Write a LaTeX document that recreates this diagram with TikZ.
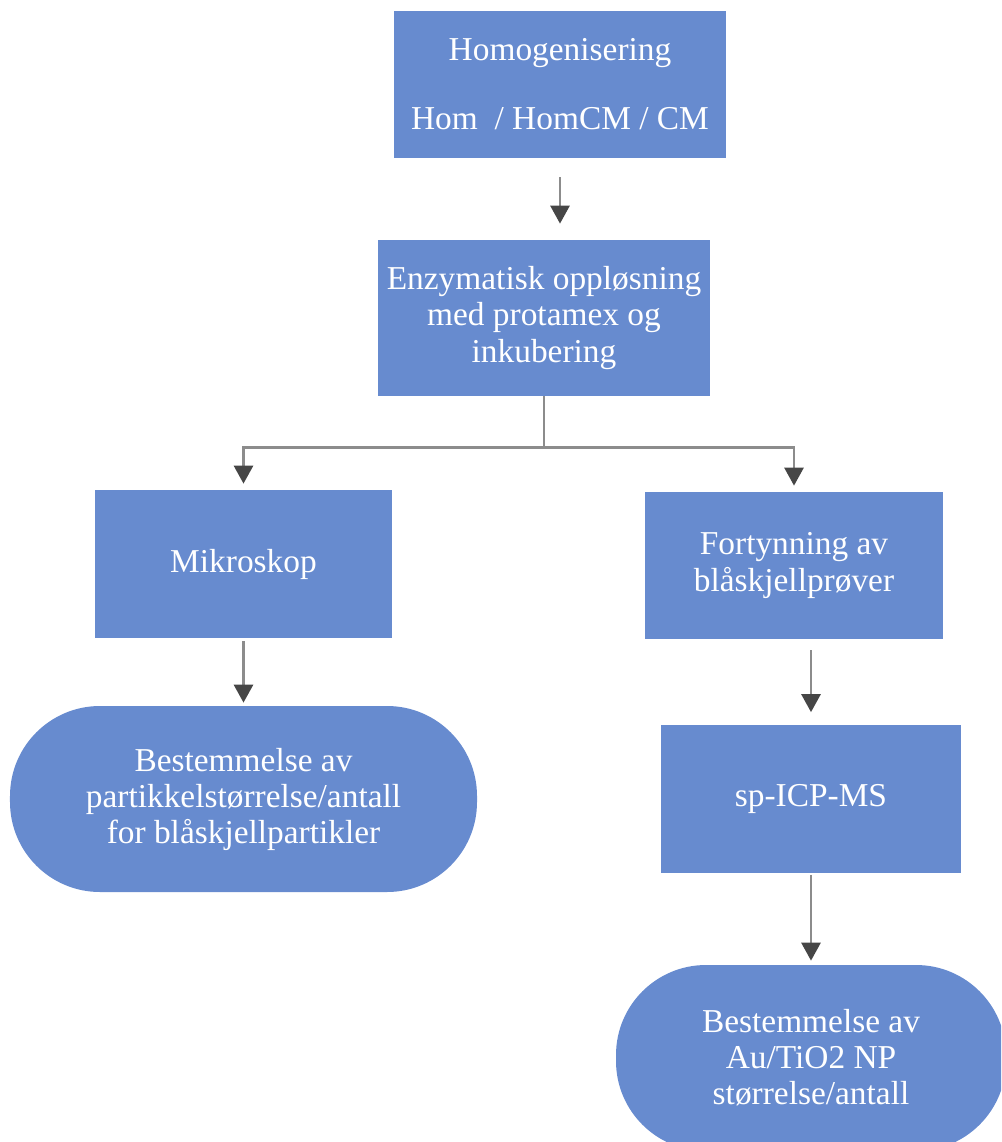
\documentclass[tikz,border=0pt]{standalone}
\usepackage{fontspec}
\setmainfont{Liberation Serif}
\usetikzlibrary{arrows.meta}
\definecolor{boxblue}{RGB}{103,139,207}
\definecolor{linegray}{RGB}{140,140,140}
\definecolor{tipgray}{RGB}{70,70,70}
\tikzset{
  proc/.style={rectangle, fill=boxblue, text=white, align=center, inner sep=0pt,
    font=\fontsize{19}{20.5}\selectfont},
  term/.style={proc, rounded corners=1.8cm},
  arr/.style={draw=linegray, line width=1.6pt,
    -{Triangle[length=0.36cm,width=0.38cm,color=tipgray]}}
}
\begin{document}
\begin{tikzpicture}
      \path[use as bounding box, clip] (0,0) rectangle (20.02,-22.84);
      \node[proc, minimum width=6.64cm, minimum height=2.94cm] (home) at (11.2,-1.69)
        {Homogenisering\\[0.66cm]Hom\ \ / HomCM / CM};
      \node[proc, minimum width=6.64cm, minimum height=3.12cm] (enzym) at (10.88,-6.36)
        {Enzymatisk oppløsning\\med protamex og\\inkubering};
      \node[proc, minimum width=5.94cm, minimum height=2.96cm] (mikro) at (4.87,-11.28)
        {Mikroskop};
      \node[proc, minimum width=5.96cm, minimum height=2.94cm] (fort) at (15.88,-11.31)
        {Fortynning av\\blåskjellprøver};
      \node[term, minimum width=9.34cm, minimum height=3.72cm] (bestA) at (4.87,-15.98)
        {Bestemmelse av\\partikkelstørrelse/antall\\for blåskjellpartikler};
      \node[proc, minimum width=6.0cm, minimum height=2.96cm] (icp) at (16.22,-15.97)
        {sp-ICP-MS};
      \node[term, minimum width=7.8cm, minimum height=3.72cm] (bestB) at (16.22,-21.16)
        {Bestemmelse av\\Au/TiO2 NP\\størrelse/antall};
      % arrows
      \draw[arr, shorten <=0.38cm, shorten >=0.32cm] (home.south) -- (home.south |- enzym.north);
      \draw[arr, shorten >=0.12cm] (enzym.south) -- ++(0,-1.02cm) -| (mikro.north);
      \draw[arr, shorten >=0.12cm] (enzym.south) -- ++(0,-1.02cm) -| (fort.north);
      \draw[arr, shorten <=0.06cm, shorten >=0.06cm] (mikro.south) -- (bestA.north);
      \draw[arr, shorten <=0.22cm, shorten >=0.24cm] (icp.north |- fort.south) -- (icp.north);
      \draw[arr, shorten <=0.04cm, shorten >=0.08cm] (icp.south) -- (bestB.north);
\end{tikzpicture}
\end{document}
